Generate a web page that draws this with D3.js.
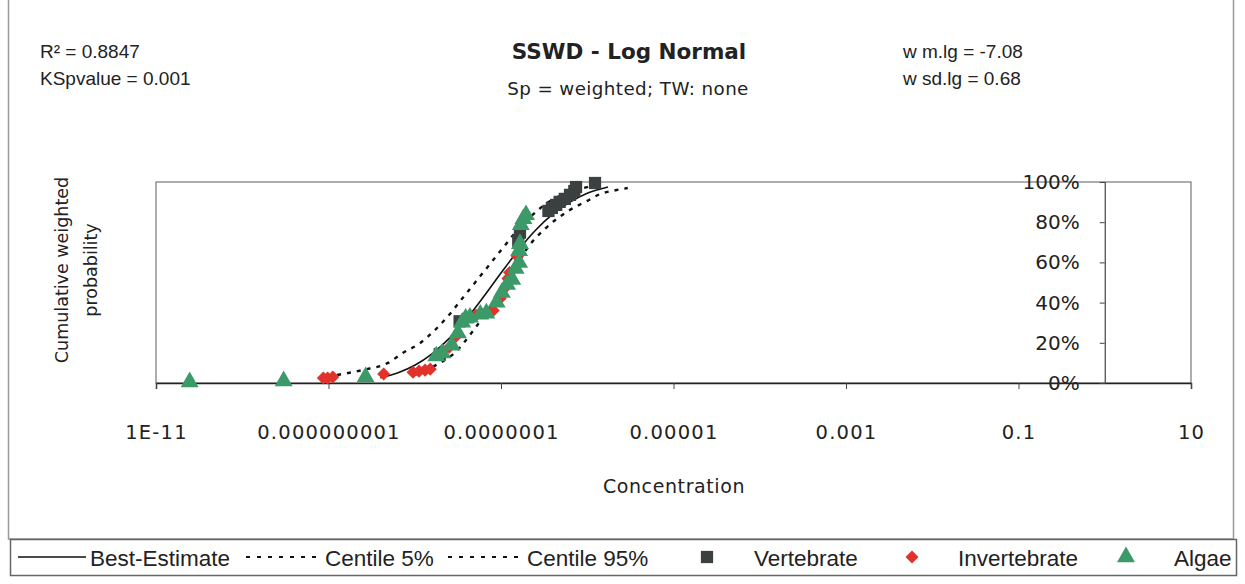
<!DOCTYPE html>
<html>
<head>
<meta charset="utf-8">
<script src="https://cdn.jsdelivr.net/npm/d3@7"></script>
<style>
  body { margin: 0; background: #fff; }
  svg { display: block; }
  .lbl { font-family: "Liberation Sans", Arial, sans-serif; fill: #222; }
  .tah { font-family: "DejaVu Sans", Verdana, sans-serif; fill: #222; }
</style>
</head>
<body>
<svg id="chart" width="1245" height="584"></svg>
<script>
//////////////////////////////////////
// Data (log10 concentration, cumulative weighted probability)

const xTickValues = [1e-11, 1e-9, 1e-7, 1e-5, 1e-3, 0.1, 10];
const xTickLabels = ["1E-11", "0.000000001", "0.0000001", "0.00001", "0.001", "0.1", "10"];
const yTickValues = [0, 0.2, 0.4, 0.6, 0.8, 1];

const vertebrateLogC = [-7.71, -7.48, -6.80, -6.78, -6.45, -6.41, -6.36, -6.32, -6.26, -6.20, -6.15, -6.13, -5.91];
const vertebrateP    = [0.144, 0.307, 0.708, 0.748, 0.856, 0.871, 0.886, 0.901, 0.916, 0.936, 0.955, 0.975, 0.995];

const invertebrateLogC = [-9.06, -9.01, -8.95, -8.36, -8.02, -7.95, -7.88, -7.82, -7.60, -7.52, -7.29, -7.09, -7.01, -6.95, -6.92, -6.90, -6.81];
const invertebrateP    = [0.025, 0.025, 0.03, 0.045, 0.054, 0.059, 0.064, 0.069, 0.178, 0.233, 0.337, 0.361, 0.421, 0.475, 0.52, 0.55, 0.629];

const algaeLogC = [-10.61, -9.52, -8.57, -7.75, -7.68, -7.57, -7.50, -7.45, -7.41, -7.36, -7.24, -7.17, -7.05, -6.99, -6.93, -6.87, -6.83, -6.79, -6.79, -6.78, -6.77, -6.74, -6.71];
const algaeP    = [0.005, 0.01, 0.03, 0.134, 0.149, 0.188, 0.248, 0.302, 0.322, 0.327, 0.342, 0.347, 0.401, 0.45, 0.49, 0.515, 0.569, 0.599, 0.658, 0.693, 0.787, 0.817, 0.837];

const bestLogC = [-8.4, -8.2, -8.0, -7.8, -7.6, -7.4, -7.2, -7.0, -6.8, -6.6, -6.4, -6.2, -6.0, -5.76];
const bestP    = [0.026, 0.05, 0.088, 0.145, 0.222, 0.319, 0.43, 0.547, 0.66, 0.76, 0.84, 0.9, 0.944, 0.975];

const c95LogC = [-8.9, -8.6, -8.31, -8.14, -7.94, -7.75, -7.6, -7.45, -7.3, -7.15, -7.0, -6.85, -6.65, -6.45, -6.2, -5.95];
const c95P    = [0.04, 0.065, 0.1, 0.149, 0.198, 0.27, 0.34, 0.42, 0.5, 0.58, 0.66, 0.74, 0.83, 0.9, 0.95, 0.98];

const c5LogC = [-8.0, -7.75, -7.53, -7.32, -7.05, -6.85, -6.70, -6.49, -6.22, -6.0, -5.85, -5.66, -5.53];
const c5P    = [0.04, 0.09, 0.153, 0.262, 0.426, 0.56, 0.668, 0.767, 0.856, 0.906, 0.94, 0.96, 0.97];

//////////////////////////////////////
// Layout

const plot = {left: 156, right: 1191, top: 182, bottom: 383};
const svg = d3.select("#chart");

svg.append("rect").attr("width", 1245).attr("height", 584).attr("fill", "#fff");
// chart frame
svg.append("rect").attr("x", 8.5).attr("y", -2).attr("width", 1225).attr("height", 541)
  .attr("fill", "none").attr("stroke", "#999").attr("stroke-width", 1.5);

const x = d3.scaleLog().domain([1e-11, 10]).range([plot.left, plot.right]);
const y = d3.scaleLinear().domain([0, 1]).range([plot.bottom, plot.top]);

function pairs(lc, p) { return lc.map(function(v, i) { return [Math.pow(10, v), p[i]]; }); }

// plot area border
svg.append("rect").attr("x", plot.left).attr("y", plot.top)
  .attr("width", plot.right - plot.left).attr("height", plot.bottom - plot.top)
  .attr("fill", "none").attr("stroke", "#777").attr("stroke-width", 1.2);

// x axis
svg.append("g")
  .attr("transform", "translate(0," + plot.bottom + ")")
  .call(d3.axisBottom(x).tickValues(xTickValues).tickSize(6)
    .tickFormat(function(d, i) { return xTickLabels[i]; }))
  .call(function(g) {
    g.select(".domain").attr("stroke", "#222").attr("stroke-width", 1.5);
    g.selectAll(".tick line").attr("stroke", "#444");
    g.selectAll("text").attr("class", "tah").attr("font-size", 19.5).attr("letter-spacing", 1.2)
      .attr("fill", "#222").attr("y", 56).attr("dy", 0);
  })
  .attr("font-family", null).attr("font-size", null);

// y axis crosses at concentration 1
svg.append("g")
  .attr("transform", "translate(" + x(1) + ",0)")
  .call(d3.axisLeft(y).tickValues(yTickValues).tickSize(5).tickPadding(20)
    .tickFormat(d3.format(".0%")))
  .call(function(g) {
    g.select(".domain").attr("stroke", "#444").attr("stroke-width", 1.2);
    g.selectAll(".tick line").attr("stroke", "#444");
    g.selectAll("text").attr("class", "tah").attr("font-size", 20).attr("fill", "#222");
  })
  .attr("font-family", null).attr("font-size", null);

//////////////////////////////////////
// Curves

const line = d3.line().x(function(d) { return x(d[0]); }).y(function(d) { return y(d[1]); })
  .curve(d3.curveMonotoneX);

svg.append("path").datum(pairs(bestLogC, bestP)).attr("d", line)
  .attr("fill", "none").attr("stroke", "#111").attr("stroke-width", 1.6);
svg.append("path").datum(pairs(c5LogC, c5P)).attr("d", line)
  .attr("fill", "none").attr("stroke", "#111").attr("stroke-width", 2.4).attr("stroke-dasharray", "4,6");
svg.append("path").datum(pairs(c95LogC, c95P)).attr("d", line)
  .attr("fill", "none").attr("stroke", "#111").attr("stroke-width", 2.4).attr("stroke-dasharray", "4,6");

//////////////////////////////////////
// Points

const colVert = "#3b4040", colInv = "#e2322b", colAlg = "#3b9a68";
const symSquare = d3.symbol().type(d3.symbolSquare).size(150);
const symDiamond = d3.symbol().type(d3.symbolSquare).size(85); // drawn rotated 45deg
const symTriangle = d3.symbol().type(d3.symbolTriangle).size(140);

function drawPoints(data, sym, col, rot) {
  svg.append("g").selectAll("path").data(data).enter().append("path")
    .attr("d", sym)
    .attr("transform", function(d) { return "translate(" + x(d[0]) + "," + y(d[1]) + ") rotate(" + rot + ")"; })
    .attr("fill", col);
}
drawPoints(pairs(vertebrateLogC, vertebrateP), symSquare, colVert, 0);
drawPoints(pairs(invertebrateLogC, invertebrateP), symDiamond, colInv, 45);
drawPoints(pairs(algaeLogC, algaeP), symTriangle, colAlg, 0);

//////////////////////////////////////
// Texts

svg.append("text").attr("class", "lbl").attr("x", 40).attr("y", 58).attr("font-size", 19).text("R² = 0.8847");
svg.append("text").attr("class", "lbl").attr("x", 40).attr("y", 85).attr("font-size", 19).text("KSpvalue = 0.001");
svg.append("text").attr("class", "lbl").attr("x", 903).attr("y", 58).attr("font-size", 19).text("w m.lg = -7.08");
svg.append("text").attr("class", "lbl").attr("x", 903).attr("y", 85).attr("font-size", 19).text("w sd.lg = 0.68");

svg.append("text").attr("class", "tah").attr("x", 629).attr("y", 59).attr("text-anchor", "middle")
  .attr("font-size", 21.5).attr("font-weight", "bold").text("SSWD - Log Normal");
svg.append("text").attr("class", "tah").attr("x", 628).attr("y", 95).attr("text-anchor", "middle")
  .attr("font-size", 18.3).attr("letter-spacing", 0.4).text("Sp = weighted; TW: none");

svg.append("text").attr("class", "tah").attr("transform", "translate(68,270) rotate(-90)")
  .attr("text-anchor", "middle").attr("font-size", 17.5).text("Cumulative weighted");
svg.append("text").attr("class", "tah").attr("transform", "translate(97,270) rotate(-90)")
  .attr("text-anchor", "middle").attr("font-size", 17.5).text("probability");

svg.append("text").attr("class", "tah").attr("x", 674).attr("y", 493).attr("text-anchor", "middle")
  .attr("font-size", 19).attr("letter-spacing", 0.6).text("Concentration");

//////////////////////////////////////
// Legend

const lg = svg.append("g");
lg.append("rect").attr("x", 10.5).attr("y", 539.5).attr("width", 1226).attr("height", 36)
  .attr("fill", "#fff").attr("stroke", "#666").attr("stroke-width", 1.5);
const ly = 557;
lg.append("line").attr("x1", 18).attr("x2", 86).attr("y1", ly).attr("y2", ly)
  .attr("stroke", "#111").attr("stroke-width", 1.6);
lg.append("line").attr("x1", 246).attr("x2", 320).attr("y1", ly).attr("y2", ly)
  .attr("stroke", "#111").attr("stroke-width", 2).attr("stroke-dasharray", "4,7");
lg.append("line").attr("x1", 448).attr("x2", 522).attr("y1", ly).attr("y2", ly)
  .attr("stroke", "#111").attr("stroke-width", 2).attr("stroke-dasharray", "4,7");
lg.append("path").attr("d", symSquare).attr("transform", "translate(707," + ly + ")").attr("fill", colVert);
lg.append("path").attr("d", symDiamond).attr("transform", "translate(912," + ly + ") rotate(45)").attr("fill", colInv);
lg.append("path").attr("d", symTriangle).attr("transform", "translate(1126," + ly + ")").attr("fill", colAlg);

const legendTexts = [[90, "Best-Estimate"], [325, "Centile 5%"], [527, "Centile 95%"],
  [754, "Vertebrate"], [958, "Invertebrate"], [1174, "Algae"]];
lg.selectAll("text.leg").data(legendTexts).enter().append("text")
  .attr("class", "lbl leg").attr("x", function(d) { return d[0]; }).attr("y", 566)
  .attr("font-size", 22.5).text(function(d) { return d[1]; });
</script>
</body>
</html>
